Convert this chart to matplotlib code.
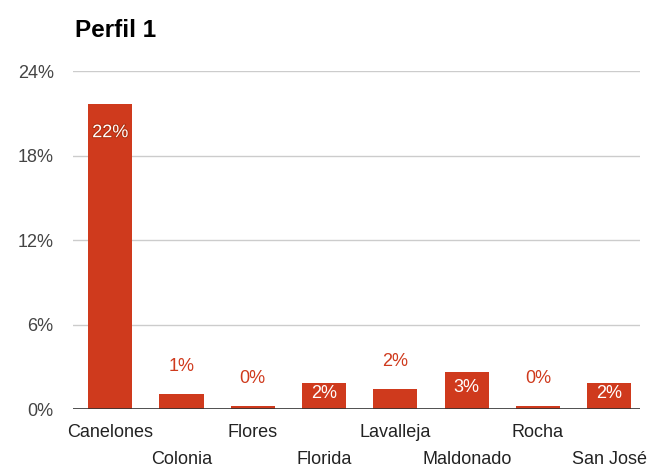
import numpy as np
import matplotlib.pyplot as plt
import matplotlib.patheffects as pe

plt.rcParams['font.family'] = ['Liberation Sans', 'DejaVu Sans']

# datos del perfil
departamentos = ['Canelones', 'Colonia', 'Flores', 'Florida', 'Lavalleja',
                 'Maldonado', 'Rocha', 'San José']
valores = [21.7, 1.05, 0.2, 1.85, 1.4, 2.6, 0.2, 1.85]
etiquetas = ['22%', '1%', '0%', '2%', '2%', '3%', '0%', '2%']
yticks = [0, 6, 12, 18, 24]

rojo = '#cf3a1d'
gris = '#444444'
fs = 13

fig = plt.figure(figsize=(6.53, 4.68), dpi=100)
ax = fig.add_axes([0.112, 0.126, 0.868, 0.722])

x = np.arange(len(departamentos))
ax.bar(x, valores, width=0.62, color=rojo, zorder=2)

ax.set_ylim(0, 24)
ax.set_xlim(-0.52, len(departamentos) - 0.57)
ax.set_yticks(yticks)
ax.set_yticklabels([f'{t}%' for t in yticks], fontsize=fs, color=gris)
ax.yaxis.grid(True, color='#cccccc', lw=1, zorder=0)
ax.axhline(0, color='#333333', lw=1.2, zorder=3)
ax.tick_params(axis='y', length=0, pad=14)
ax.tick_params(axis='x', length=0)
ax.set_xticks([])
for s in ax.spines.values():
    s.set_visible(False)

# etiquetas de categorias alternadas
for i, nombre in enumerate(departamentos):
    off = -28 if i % 2 == 0 else -55
    ax.annotate(nombre, (i, 0), xycoords=('data', 'data'), xytext=(0, off),
                textcoords='offset pixels', ha='center', va='baseline',
                fontsize=fs, color='#222222')

# etiquetas de valor
for i, (v, txt) in enumerate(zip(valores, etiquetas)):
    if v >= 1.5:
        yv = max(v - 2.07, v / 2 + 0.2)
        t = ax.text(i, yv, txt, ha='center', va='center', fontsize=fs,
                    color='white', zorder=4)
        if v > 10:
            t.set_path_effects([pe.withStroke(linewidth=1.5, foreground='#b03010')])
    else:
        ax.annotate(txt, (i, v), xytext=(0, 28), textcoords='offset pixels',
                    ha='center', va='center', fontsize=fs, color=rojo)

fig.text(75 / 653, 1 - 37 / 468, 'Perfil 1', fontsize=17.5, fontweight='bold',
         ha='left', va='baseline', color='black')

fig.savefig('out.png', dpi=100)
